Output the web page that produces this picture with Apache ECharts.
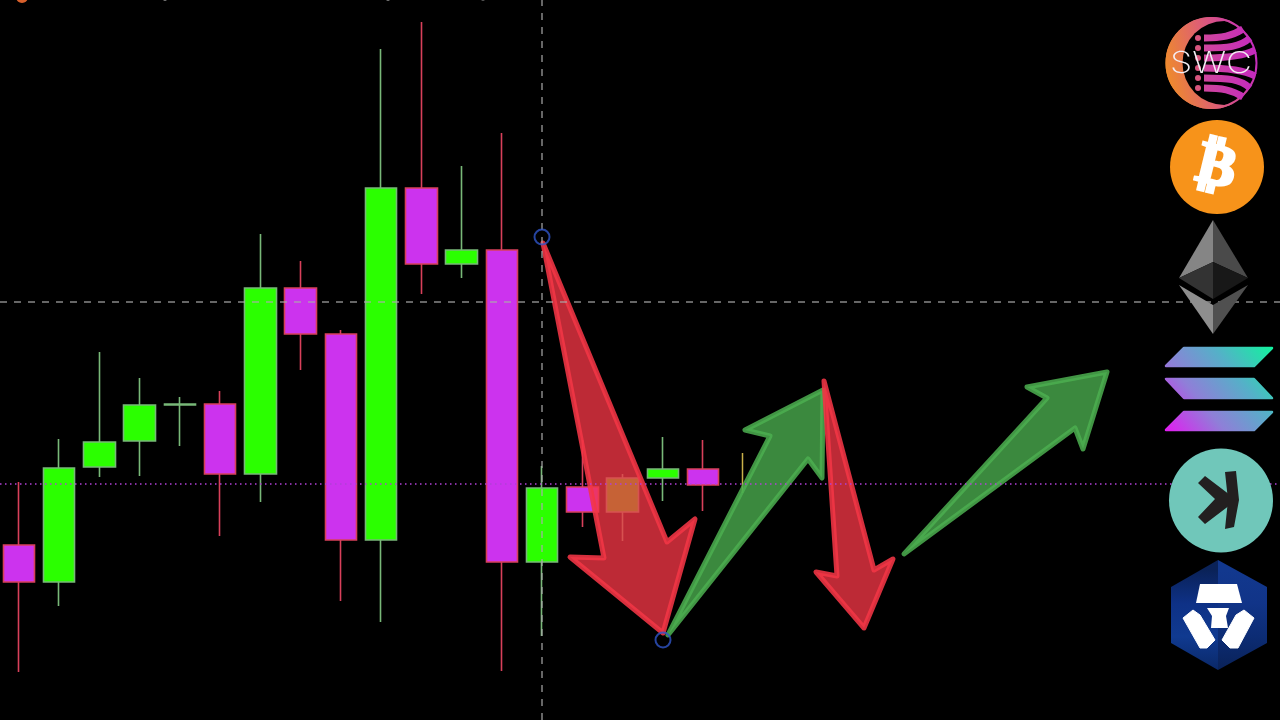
<!DOCTYPE html>
<html>
<head>
<meta charset="utf-8">
<style>html,body{margin:0;padding:0;background:#000}#c{width:1280px;height:720px}</style>
<script src="https://cdn.jsdelivr.net/npm/echarts@6/dist/echarts.min.js"></script>
</head>
<body>
<div id="c"></div>
<script>
// Candles. Price units: 0 at the bottom edge, 720 at the top.
const categories = Array.from({length: 32}, (_, i) => 'C' + (i + 1));
const opens  = [175, 138, 253, 279, 315, 316, 246, 432, 386, 180, 532, 456, 470, 158, 233, 208, 242, 251];
const closes = [138, 252, 278, 315, 316, 246, 432, 386, 180, 532, 456, 470, 158, 232, 208, 242, 251, 235];
const lows   = [ 48, 114, 243, 244, 274, 184, 218, 350, 119,  98, 426, 442,  49,  84, 193, 179, 219, 209];
const highs  = [238, 281, 368, 342, 323, 329, 486, 459, 390, 671, 698, 554, 587, 254, 280, 246, 283, 280];
const formingCandle = {index: 18, open: 247, close: 247, low: 227, high: 267};

// Annotation outlines (x, price)
const arrowGreenA = [[668,85],[808,261],[822,242],[823,330],[745,290],[770,284]];
const arrowRedA   = [[543,477],[667,178],[695,201],[663,87],[570,163],[604,162]];
const arrowGreenB = [[904,166],[1075,292],[1083,271],[1107,348],[1027,333],[1047,322]];
const arrowRedB   = [[824,339],[874,150],[893,161],[864,92],[816,148],[837,144]];
const arrows = [
  {pts: arrowGreenA, up: true},
  {pts: arrowRedA, up: false},
  {pts: arrowGreenB, up: true},
  {pts: arrowRedB, up: false}
];
const anchorPoints = [[542,483],[663,80]];
const crosshairX = 542;
const crosshairPrice = 418;
const lastPrice = 236;

const GREEN = '#2bff00', MAGENTA = '#cc33ee', GREEN_EDGE = '#78b878', RED_EDGE = '#d8405a';
const G = echarts.graphic;
const global = (x, y, x2, y2, stops) => new G.LinearGradient(x, y, x2, y2, stops.map((c, i) => ({offset: i / (stops.length - 1), color: c})), true);

const poly = (points, fill, extra) => ({type: 'polygon', z: 50, silent: true, shape: {points}, style: Object.assign({fill}, extra || {})});
const circle = (cx, cy, r, fill) => ({type: 'circle', z: 50, silent: true, shape: {cx, cy, r}, style: {fill}});

// SWC logo
const swcGrad = global(1166, 70, 1258, 50, ['#ee8a2c', '#dc5a7c', '#c22ac0']);
const stripeGrad = global(1200, 60, 1258, 60, ['#d0489a', '#c428c0']);
const stripe = (y, cx1, cy1, cx2, cy2, x2, y2) => ({
  type: 'bezierCurve', z: 51, silent: true,
  shape: {x1: 1204, y1: y, x2, y2, cpx1: cx1, cpy1: cy1, cpx2: cx2, cpy2: cy2},
  style: {stroke: stripeGrad, lineWidth: 7, fill: null}
});
const swcDots = [38, 48, 58, 68, 78, 88].map(y => Object.assign(circle(1198, y, 3, '#d8557e'), {z: 52}));
const swc = [
  circle(1211.5, 63, 46, swcGrad),
  Object.assign(circle(1224.5, 63, 42, '#000'), {z: 50}),
  {type: 'circle', z: 50, silent: true, shape: {cx: 1211.5, cy: 63, r: 45}, style: {fill: null, stroke: swcGrad, lineWidth: 2}},
  stripe(38, 1222, 38, 1232, 36, 1243, 29),
  stripe(48, 1228, 48, 1240, 47, 1250, 38),
  stripe(58, 1228, 58, 1244, 56, 1255, 50),
  stripe(68, 1228, 68, 1244, 70, 1255, 76),
  stripe(78, 1228, 78, 1240, 79, 1250, 88),
  stripe(88, 1222, 88, 1232, 90, 1243, 97),
  ...swcDots,
  {type: 'text', z: 53, silent: true, x: 1170, y: 49, scaleX: 1.19, style: {text: 'SWC', fill: '#f4eef4', font: '200 30px Inter', textAlign: 'left', textVerticalAlign: 'top'}}
];

// Bitcoin logo
const btc = [
  circle(1217, 167, 47, '#f7931a'),
  {type: 'text', z: 51, silent: true, x: 1216, y: 169, rotation: -0.24, style: {text: '\u20bf', fill: '#fff', stroke: '#fff', lineWidth: 3, font: 'bold 58px "DejaVu Sans"', align: 'center', verticalAlign: 'middle'}}
];

// Ethereum logo
const eth = [
  poly([[1213,220],[1179,278],[1213,262]], '#858585'),
  poly([[1213,220],[1248,278],[1213,262]], '#4a4a4a'),
  poly([[1179,278],[1213,262],[1213,299]], '#333'),
  poly([[1248,278],[1213,262],[1213,299]], '#181818'),
  poly([[1179,285],[1213,305],[1213,334]], '#8e8e8e'),
  poly([[1248,285],[1213,305],[1213,334]], '#505050')
];

// Solana logo
const solGrad = global(1168, 431, 1270, 347, ['#df20f0', '#8f7fd8', '#55b0c8', '#14f0a0']);
const solEdge = {stroke: solGrad, lineWidth: 2.5, lineJoin: 'round'};
const sol = [
  poly([[1184,348],[1272,348],[1254,366],[1166,366]], solGrad, solEdge),
  poly([[1166,379],[1254,379],[1272,398],[1184,398]], solGrad, solEdge),
  poly([[1184,412],[1272,412],[1254,430],[1166,430]], solGrad, solEdge)
];

// Kaspa logo
const kas = [
  circle(1221, 500.5, 52, '#70c7ba'),
  poly([[1225,472],[1236,471],[1239,500],[1234,527],[1225,529],[1228,500]], '#231f20'),
  poly([[1198,483],[1205,476],[1230,495],[1230,505],[1205,524],[1198,517],[1215,499]], '#231f20')
];

// Cronos logo
const whiteEdge = {stroke: '#fff', lineWidth: 1, lineJoin: 'round'};
const cro = [
  poly([[1218,560],[1171,587],[1171,643],[1218,670]], global(1190, 570, 1190, 670, ['#0a2258', '#0e3186', '#103a90', '#0a2868'])),
  poly([[1218,560],[1267,587],[1267,643],[1218,670]], global(1245, 570, 1245, 670, ['#12388e', '#113488', '#0c2c74', '#0a2258'])),
  poly([[1200,584],[1237,584],[1242,603],[1196,603]], '#fff'),
  poly([[1207,608],[1229,608],[1226,616],[1228,628],[1211,628],[1212,616]], '#fff'),
  poly([[1183,618],[1193,610],[1200,615],[1215,640],[1207,648],[1200,648]], '#fff', whiteEdge),
  poly([[1254,618],[1244,610],[1236,615],[1222,640],[1230,648],[1238,648]], '#fff', whiteEdge)
];

const topFragment = [
  circle(22, -3, 6, '#d8602c'),
  circle(165, -1, 2, '#777'),
  circle(388, -1, 2, '#777'),
  circle(483, -1, 2, '#555')
];

const chart = echarts.init(document.getElementById('c'), null, {renderer: 'canvas'});
chart.setOption({
  backgroundColor: '#000',
  animation: false,
  grid: [
    {left: 19, top: 0, width: 1247.3, height: 720, containLabel: false},
    {left: 0, top: 0, width: 1280, height: 720, containLabel: false}
  ],
  xAxis: [
    {type: 'category', gridIndex: 0, data: categories, show: false, boundaryGap: false},
    {type: 'value', gridIndex: 1, min: 0, max: 1280, show: false}
  ],
  yAxis: [
    {type: 'value', gridIndex: 0, min: 0, max: 720, show: false},
    {type: 'value', gridIndex: 1, min: 0, max: 720, show: false}
  ],
  series: [
    {
      type: 'candlestick', name: 'candles', xAxisIndex: 0, yAxisIndex: 0, barWidth: 32, z: 2, clip: false,
      data: opens.map((o, i) => [o, closes[i], lows[i], highs[i]]),
      itemStyle: {color: GREEN, color0: MAGENTA, borderColor: GREEN_EDGE, borderColor0: RED_EDGE, borderWidth: 1.6}
    },
    {
      type: 'candlestick', name: 'forming', xAxisIndex: 0, yAxisIndex: 0, barWidth: 1, z: 2, clip: false,
      data: categories.map((_, i) => i === formingCandle.index ? [formingCandle.open, formingCandle.close, formingCandle.low, formingCandle.high] : '-'),
      itemStyle: {color: '#c9b04a', color0: '#c9b04a', borderColor: '#c9b04a', borderColor0: '#c9b04a', borderWidth: 1.5}
    },
    {
      type: 'scatter', name: 'levels', xAxisIndex: 1, yAxisIndex: 1, z: 3, silent: true,
      symbol: 'none', data: [],
      markLine: {
        silent: true, symbol: 'none', animation: false, label: {show: false},
        data: [
          {xAxis: crosshairX, lineStyle: {color: 'rgba(170,170,170,0.8)', type: [7, 7], width: 1.5}},
          {yAxis: crosshairPrice, lineStyle: {color: 'rgba(170,170,170,0.8)', type: [7, 7], width: 1.5}},
          {yAxis: lastPrice, lineStyle: {color: '#b040d8', type: [1.5, 3.5], width: 1.5}}
        ]
      }
    },
    {
      type: 'custom', name: 'arrows', xAxisIndex: 1, yAxisIndex: 1, z: 4, clip: false, silent: true,
      data: arrows.map((a, i) => [i]),
      encode: {x: 0, y: 0},
      renderItem(params, api) {
        const a = arrows[params.dataIndex];
        return {
          type: 'polygon',
          shape: {points: a.pts.map(p => api.coord(p))},
          style: {
            fill: a.up ? 'rgba(76,175,80,0.78)' : 'rgba(242,54,69,0.78)',
            stroke: a.up ? 'rgba(76,175,80,0.85)' : 'rgba(242,54,69,0.88)',
            lineWidth: 5, lineJoin: 'round'
          }
        };
      }
    },
    {
      type: 'scatter', name: 'anchors', xAxisIndex: 1, yAxisIndex: 1, z: 5, silent: true,
      data: anchorPoints, symbol: 'circle', symbolSize: 15,
      itemStyle: {color: 'rgba(0,0,0,0)', borderColor: '#2f55c8', borderWidth: 2}
    }
  ],
  graphic: {elements: [...topFragment, ...swc, ...btc, ...eth, ...sol, ...kas, ...cro]}
});
</script>
</body>
</html>
